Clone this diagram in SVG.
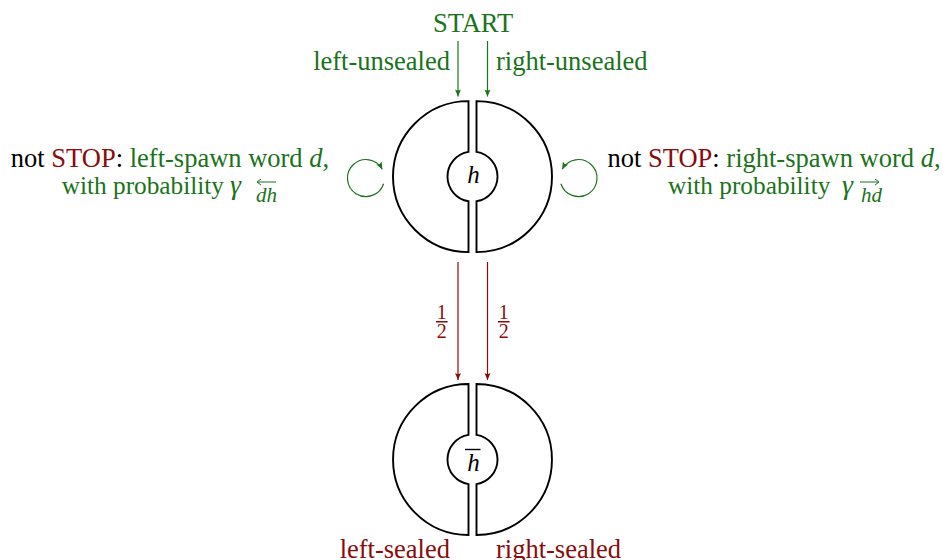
<svg xmlns="http://www.w3.org/2000/svg" width="943" height="560" viewBox="0 0 943 560">
  <defs>
    <style>
      .t { font-family: "Liberation Serif", "DejaVu Serif", "Times New Roman", serif; font-size: 26.5px; }
      .l2 { font-size: 25.3px; }
      .sub { font-size: 21px; }
      .frac { font-size: 20px; }
      .var { font-size: 25px; }
      .gam { font-size: 28px; }
      .g { fill: #1a731a; }
      .r { fill: #8b0b0b; }
      .k { fill: #000; }
      .it { font-style: italic; }
      .node { fill: none; stroke: #000; stroke-width: 1.9; }
      .ga { fill: none; stroke: #1a731a; stroke-width: 1.2; }
      .ra { fill: none; stroke: #8b0b0b; stroke-width: 1.2; }
      .acc { fill: none; stroke: #1a731a; stroke-width: 1; }
    </style>
    <marker id="ahG" markerUnits="userSpaceOnUse" markerWidth="10" markerHeight="10" viewBox="-8 -5 10 10" refX="0" refY="0" orient="auto">
      <path d="M0,0 L-7,-3 Q-5,0 -7,3 Z" fill="#1a731a"/>
    </marker>
    <marker id="ahR" markerUnits="userSpaceOnUse" markerWidth="10" markerHeight="10" viewBox="-8 -5 10 10" refX="0" refY="0" orient="auto">
      <path d="M0,0 L-7,-3 Q-5,0 -7,3 Z" fill="#8b0b0b"/>
    </marker>
  </defs>

  <rect width="943" height="560" fill="#fff"/>

  <!-- head state h: two half-discs split by a vertical gap, with a round hole -->
  <g id="node-h">
    <path class="node" d="M468.5,101.1 A75.5,75.5 0 0 0 468.5,252.1 L468.5,201.28 A25,25 0 0 1 468.5,151.92 Z"/>
    <path class="node" d="M476.5,101.1 A75.5,75.5 0 0 1 476.5,252.1 L476.5,201.28 A25,25 0 0 0 476.5,151.92 Z"/>
    <text class="t var k it" x="473.5" y="183" text-anchor="middle">h</text>
  </g>

  <!-- sealed head state h-bar -->
  <g id="node-hbar">
    <path class="node" d="M468.5,384 A75.5,75.5 0 0 0 468.5,535 L468.5,484.18 A25,25 0 0 1 468.5,434.82 Z"/>
    <path class="node" d="M476.5,384 A75.5,75.5 0 0 1 476.5,535 L476.5,484.18 A25,25 0 0 0 476.5,434.82 Z"/>
    <text class="t var k it" x="473.5" y="471" text-anchor="middle">h</text>
    <line x1="465" y1="449.5" x2="480.5" y2="449.5" stroke="#000" stroke-width="1.4"/>
  </g>

  <g id="labels">
    <text class="t g" x="473" y="31.5" text-anchor="middle">START</text>
    <text class="t g" x="450" y="70" text-anchor="end">left-unsealed</text>
    <text class="t g" x="496" y="70">right-unsealed</text>

    <text class="t" x="170" y="167" text-anchor="middle"><tspan class="k">not </tspan><tspan class="r">STOP</tspan><tspan class="k">: </tspan><tspan class="g">left-spawn word </tspan><tspan class="g it">d</tspan><tspan class="g">,</tspan></text>
    <text class="t l2 g" x="224" y="194" text-anchor="end">with probability</text>
    <text class="t gam g it" x="230" y="194">γ</text>
    <text class="t sub g it" x="256" y="201.5">dh</text>
    <path class="acc" d="M257,182 H276 M257,182 l4,-3 M257,182 l4,3"/>

    <text class="t" x="774" y="167" text-anchor="middle"><tspan class="k">not </tspan><tspan class="r">STOP</tspan><tspan class="k">: </tspan><tspan class="g">right-spawn word </tspan><tspan class="g it">d</tspan><tspan class="g">,</tspan></text>
    <text class="t l2 g" x="668" y="194">with probability</text>
    <text class="t gam g it" x="842" y="194">γ</text>
    <text class="t sub g it" x="861" y="201.5">hd</text>
    <path class="acc" d="M860,182 H879 M879,182 l-4,-3 M879,182 l-4,3"/>

    <text class="t frac r" x="441.8" y="318.5" text-anchor="middle">1</text>
    <rect x="436" y="321" width="11.6" height="1.5" fill="#8b0b0b"/>
    <text class="t frac r" x="441.8" y="337.5" text-anchor="middle">2</text>
    <text class="t frac r" x="503.8" y="318.5" text-anchor="middle">1</text>
    <rect x="498" y="321" width="11.6" height="1.5" fill="#8b0b0b"/>
    <text class="t frac r" x="503.8" y="337.5" text-anchor="middle">2</text>

    <text class="t r" x="450" y="558" text-anchor="end">left-sealed</text>
    <text class="t r" x="496" y="558">right-sealed</text>
  </g>

  <g id="connectors">
    <path class="ga" d="M458,41 V96.5" marker-end="url(#ahG)"/>
    <path class="ga" d="M487.5,41 V96.5" marker-end="url(#ahG)"/>
    <path class="ga" d="M383.6,183.7 A18.5,18.5 0 1 1 382.3,169.3" marker-end="url(#ahG)"/>
    <path class="ga" d="M560.9,183.7 A18.5,18.5 0 1 0 562.2,169.3" marker-end="url(#ahG)"/>
    <path class="ra" d="M458,262 V380" marker-end="url(#ahR)"/>
    <path class="ra" d="M487.5,262 V380" marker-end="url(#ahR)"/>
  </g>
</svg>
